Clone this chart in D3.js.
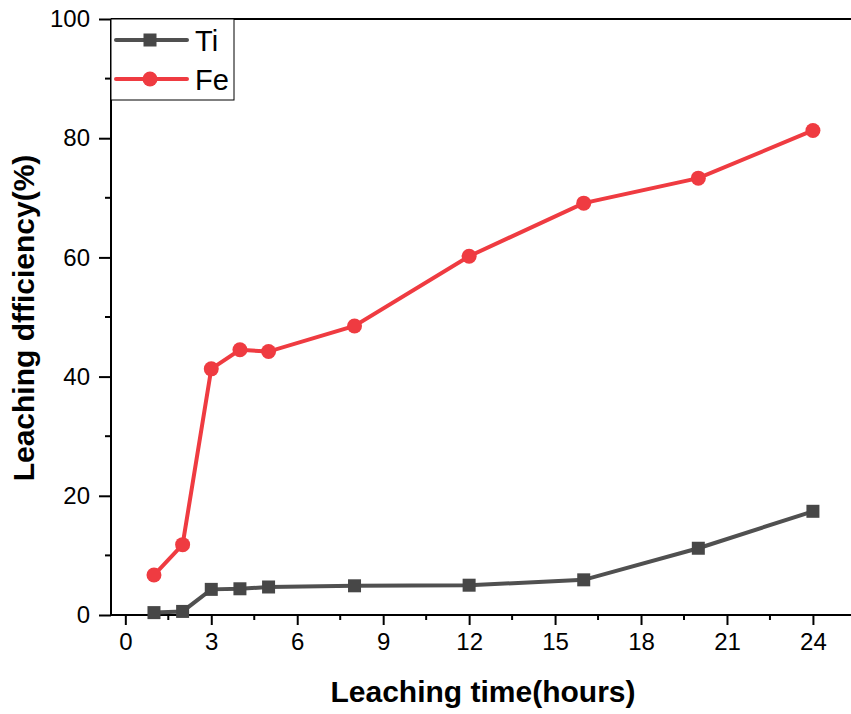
<!DOCTYPE html>
<html>
<head>
<meta charset="utf-8">
<script src="https://cdn.jsdelivr.net/npm/d3@7"></script>
<style>
  body { margin: 0; background: #fff; }
  svg { display: block; font-family: Arial, "Liberation Sans", sans-serif; }
</style>
</head>
<body>
<script>
// leaching time (hours)
var hours = [1, 2, 3, 4, 5, 8, 12, 16, 20, 24];
// leaching efficiency (%)
var tiValues = [0.4, 0.6, 4.3, 4.4, 4.7, 4.9, 5.0, 5.9, 11.2, 17.4];
var feValues = [6.7, 11.8, 41.3, 44.5, 44.2, 48.5, 60.2, 69.1, 73.3, 81.3];
var xTicks = [0, 3, 6, 9, 12, 15, 18, 21, 24];
var yTicks = [0, 20, 40, 60, 80, 100];

var width = 851, height = 714;
var plotLeft = 111, plotTop = 19, plotBottom = 615;

var svg = d3.select("body").append("svg")
  .attr("width", width)
  .attr("height", height);

var x = d3.scaleLinear().domain([-0.5, 25.5]).range([plotLeft, plotLeft + 26 * 28.65]);
var y = d3.scaleLinear().domain([0, 100]).range([plotBottom, plotTop]);

var tiColor = "#505050", feColor = "#ef3b41";

// frame: top line
svg.append("line")
  .attr("x1", plotLeft).attr("x2", width).attr("y1", plotTop).attr("y2", plotTop)
  .attr("stroke", "#000").attr("stroke-width", 2);

// x axis
var xAxis = svg.append("g")
  .attr("transform", "translate(0," + plotBottom + ")")
  .call(d3.axisBottom(x).tickValues(xTicks).tickSize(10).tickPadding(8));
xAxis.select(".domain").remove();
xAxis.append("line").attr("x1", plotLeft).attr("x2", width).attr("stroke", "#000").attr("stroke-width", 2);
xAxis.selectAll(".tick line").attr("stroke-width", 2);
xAxis.selectAll(".tick text").attr("font-size", 24).attr("fill", "#000").attr("font-family", "Arial, 'Liberation Sans', sans-serif");
xAxis.selectAll(".minor")
  .data(d3.range(1.5, 25, 3))
  .enter().append("line")
  .attr("x1", x).attr("x2", x).attr("y1", 0).attr("y2", 5)
  .attr("stroke", "#000").attr("stroke-width", 2);

// y axis
var yAxis = svg.append("g")
  .attr("transform", "translate(" + plotLeft + ",0)")
  .call(d3.axisLeft(y).tickValues(yTicks).tickSize(12).tickPadding(9));
yAxis.select(".domain").remove();
yAxis.append("line").attr("y1", plotTop).attr("y2", plotBottom + 1).attr("stroke", "#000").attr("stroke-width", 2);
yAxis.selectAll(".tick line").attr("stroke-width", 2);
yAxis.selectAll(".tick text").attr("font-size", 24).attr("fill", "#000").attr("font-family", "Arial, 'Liberation Sans', sans-serif");
yAxis.selectAll(".minor")
  .data([10, 30, 50, 70, 90])
  .enter().append("line")
  .attr("y1", y).attr("y2", y).attr("x1", 0).attr("x2", -6)
  .attr("stroke", "#000").attr("stroke-width", 2);

// axis titles
svg.append("text")
  .attr("x", 483).attr("y", 702)
  .attr("text-anchor", "middle")
  .attr("font-size", 30).attr("font-weight", "bold")
  .text("Leaching time(hours)");

svg.append("text")
  .attr("transform", "translate(34,318) rotate(-90)")
  .attr("text-anchor", "middle")
  .attr("font-size", 30).attr("font-weight", "bold")
  .text("Leaching dfficiency(%)");

var line = d3.line()
  .x(function(d, i) { return x(hours[i]); })
  .y(function(d) { return y(d); });

// Fe series
svg.append("path")
  .datum(feValues)
  .attr("d", line)
  .attr("fill", "none").attr("stroke", feColor).attr("stroke-width", 4);
svg.selectAll(".fe")
  .data(feValues)
  .enter().append("circle")
  .attr("class", "fe")
  .attr("cx", function(d, i) { return x(hours[i]); })
  .attr("cy", function(d) { return y(d); })
  .attr("r", 7.5)
  .attr("fill", feColor);

// Ti series
svg.append("path")
  .datum(tiValues)
  .attr("d", line)
  .attr("fill", "none").attr("stroke", tiColor).attr("stroke-width", 4);
svg.selectAll(".ti")
  .data(tiValues)
  .enter().append("rect")
  .attr("class", "ti")
  .attr("x", function(d, i) { return x(hours[i]) - 6.5; })
  .attr("y", function(d) { return y(d) - 6.5; })
  .attr("width", 13).attr("height", 13)
  .attr("fill", "#474747");

// legend
var legend = svg.append("g");
legend.append("rect")
  .attr("x", plotLeft).attr("y", plotTop)
  .attr("width", 123).attr("height", 81)
  .attr("fill", "#fff").attr("stroke", "#000").attr("stroke-width", 1);

var items = [
  { name: "Ti", color: tiColor, shape: "square", cy: 40 },
  { name: "Fe", color: feColor, shape: "circle", cy: 79 }
];
items.forEach(function(it) {
  legend.append("line")
    .attr("x1", 116).attr("x2", 187).attr("y1", it.cy).attr("y2", it.cy)
    .attr("stroke", it.color).attr("stroke-width", 4).attr("stroke-linecap", "round");
  if (it.shape === "square") {
    legend.append("rect")
      .attr("x", 150 - 6.5).attr("y", it.cy - 6.5).attr("width", 13).attr("height", 13)
      .attr("fill", "#474747");
  } else {
    legend.append("circle").attr("cx", 150).attr("cy", it.cy).attr("r", 7.5).attr("fill", it.color);
  }
  legend.append("text")
    .attr("x", 195).attr("y", it.cy + 11)
    .attr("font-size", 29)
    .text(it.name);
});
</script>
</body>
</html>
